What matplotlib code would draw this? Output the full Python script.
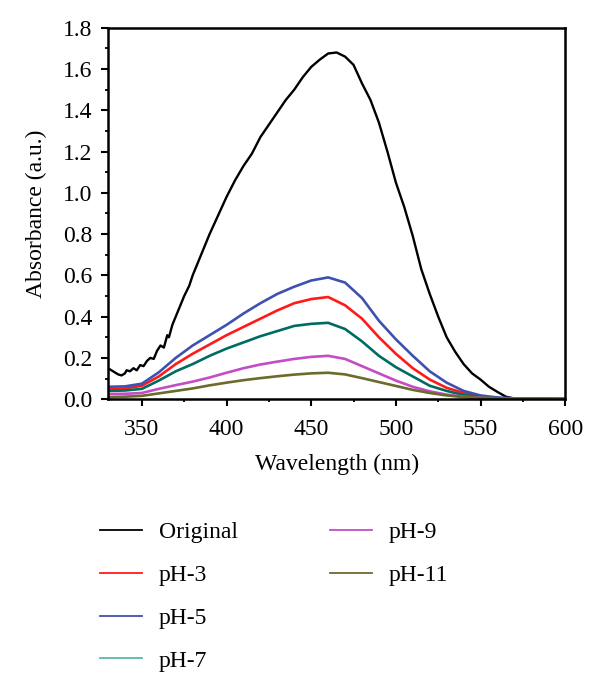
import numpy as np
import matplotlib
matplotlib.use("Agg")
import matplotlib.pyplot as plt
from matplotlib.lines import Line2D
from matplotlib.ticker import MultipleLocator, FormatStrFormatter

plt.rcParams["font.family"] = ["Liberation Serif", "DejaVu Serif"]

# wavelength grid for the pH spectra (nm)
wl = [330, 340, 350, 360, 370, 380, 390, 400, 410, 420, 430, 440, 450, 460,
      470, 480, 490, 500, 510, 520, 530, 540, 550, 560, 570, 580, 590, 600]

ph3 = [0.05, 0.052, 0.065, 0.11, 0.17, 0.22, 0.265, 0.31, 0.35, 0.39, 0.43,
       0.465, 0.485, 0.495, 0.455, 0.39, 0.30, 0.22, 0.15, 0.095, 0.055, 0.03,
       0.012, 0.005, 0.002, 0.001, 0.0, 0.0]
ph5 = [0.06, 0.062, 0.075, 0.13, 0.20, 0.26, 0.31, 0.36, 0.415, 0.465, 0.51,
       0.545, 0.575, 0.59, 0.565, 0.49, 0.38, 0.29, 0.21, 0.135, 0.08, 0.04,
       0.018, 0.008, 0.004, 0.002, 0.001, 0.0]
ph7 = [0.04, 0.042, 0.05, 0.09, 0.135, 0.17, 0.21, 0.245, 0.275, 0.305, 0.33,
       0.355, 0.365, 0.37, 0.34, 0.28, 0.21, 0.155, 0.11, 0.065, 0.04, 0.02,
       0.01, 0.005, 0.003, 0.002, 0.001, 0.0]
ph9 = [0.025, 0.026, 0.03, 0.05, 0.068, 0.085, 0.105, 0.128, 0.15, 0.168,
       0.182, 0.195, 0.205, 0.21, 0.195, 0.16, 0.125, 0.09, 0.06, 0.038,
       0.022, 0.012, 0.007, 0.004, 0.003, 0.002, 0.001, 0.0]
ph11 = [0.01, 0.012, 0.016, 0.028, 0.04, 0.052, 0.067, 0.08, 0.092, 0.102,
        0.111, 0.119, 0.125, 0.128, 0.12, 0.102, 0.083, 0.064, 0.045, 0.03,
        0.018, 0.01, 0.006, 0.004, 0.003, 0.003, 0.003, 0.003]

# original dye spectrum, read on a finer grid (noisy at the blue end)
wl_orig = [330, 332, 334, 336, 338, 340, 341, 343, 345, 347, 349, 351, 353,
           355, 357, 359, 361, 363, 365, 366, 368, 370, 372, 375, 378, 380,
           385, 390, 395, 400, 405, 410, 415, 420, 425, 430, 435, 440, 445,
           450, 455, 460, 465, 470, 475, 480, 485, 490, 495, 500, 505, 510,
           515, 520, 525, 530, 535, 540, 545, 550, 555, 560, 565, 570, 580,
           600]
original = [0.15, 0.14, 0.13, 0.12, 0.115, 0.125, 0.14, 0.135, 0.15, 0.14,
            0.165, 0.16, 0.185, 0.20, 0.195, 0.235, 0.26, 0.25, 0.31, 0.30,
            0.36, 0.40, 0.44, 0.50, 0.55, 0.60, 0.70, 0.80, 0.89, 0.98, 1.06,
            1.13, 1.19, 1.27, 1.33, 1.39, 1.45, 1.50, 1.56, 1.61, 1.645, 1.675,
            1.68, 1.66, 1.62, 1.53, 1.45, 1.34, 1.20, 1.05, 0.93, 0.79, 0.63,
            0.51, 0.40, 0.30, 0.23, 0.17, 0.125, 0.095, 0.06, 0.035, 0.012,
            0.003, 0.001, 0.0]

labels = ["Original", "pH-3", "pH-5", "pH-7", "pH-9", "pH-11"]
colors = ["#000000", "#ff1a1a", "#3f51b0", "#006b60", "#c44cc4", "#6b6b2c"]
legend_colors = ["#000000", "#ff1a1a", "#3f51b0", "#5cb8b0", "#c44cc4", "#6b6b2c"]

fig = plt.figure(figsize=(6, 6.93), dpi=100)
ax = fig.add_axes([0.18, 0.424, 0.762, 0.536])

ax.plot(wl_orig, original, color=colors[0], lw=1.7)
series = [ph3, ph5, ph7, ph9, ph11]
for vals, c in zip(series, colors[1:]):
    ax.plot(wl, vals, color=c, lw=1.9)

ax.set_xlim(330, 600)
ax.set_ylim(0, 1.8)
ax.xaxis.set_major_locator(MultipleLocator(50))
ax.xaxis.set_minor_locator(MultipleLocator(25))
ax.yaxis.set_major_locator(MultipleLocator(0.2))
ax.yaxis.set_minor_locator(MultipleLocator(0.1))
ax.yaxis.set_major_formatter(FormatStrFormatter("%.1f"))

for s in ax.spines.values():
    s.set_linewidth(1.8)
ax.tick_params(which="major", direction="out", length=5, width=1.5,
               labelsize=17)
ax.tick_params(which="minor", direction="out", length=2.5, width=1.3)
ax.tick_params(axis="x", which="major", pad=9)
ax.tick_params(axis="y", which="major", pad=6)

ax.set_xlabel("Wavelength (nm)", fontsize=17, labelpad=10)
ax.set_ylabel("Absorbance (a.u.)", fontsize=17, labelpad=12)

# legend: four entries in the first column, two in the second
handles = [Line2D([0], [0], color=c, lw=1.3) for c in legend_colors]
leg_kw = dict(loc="upper left", frameon=False, fontsize=17,
              handlelength=1.8, handletextpad=0.7, labelspacing=0.9,
              borderpad=0)
fig.legend(handles[:4], labels[:4], bbox_to_anchor=(88 / 600, 0.264), **leg_kw)
fig.legend(handles[4:], labels[4:], bbox_to_anchor=(318 / 600, 0.264), **leg_kw)

fig.savefig("out.png", dpi=100)
